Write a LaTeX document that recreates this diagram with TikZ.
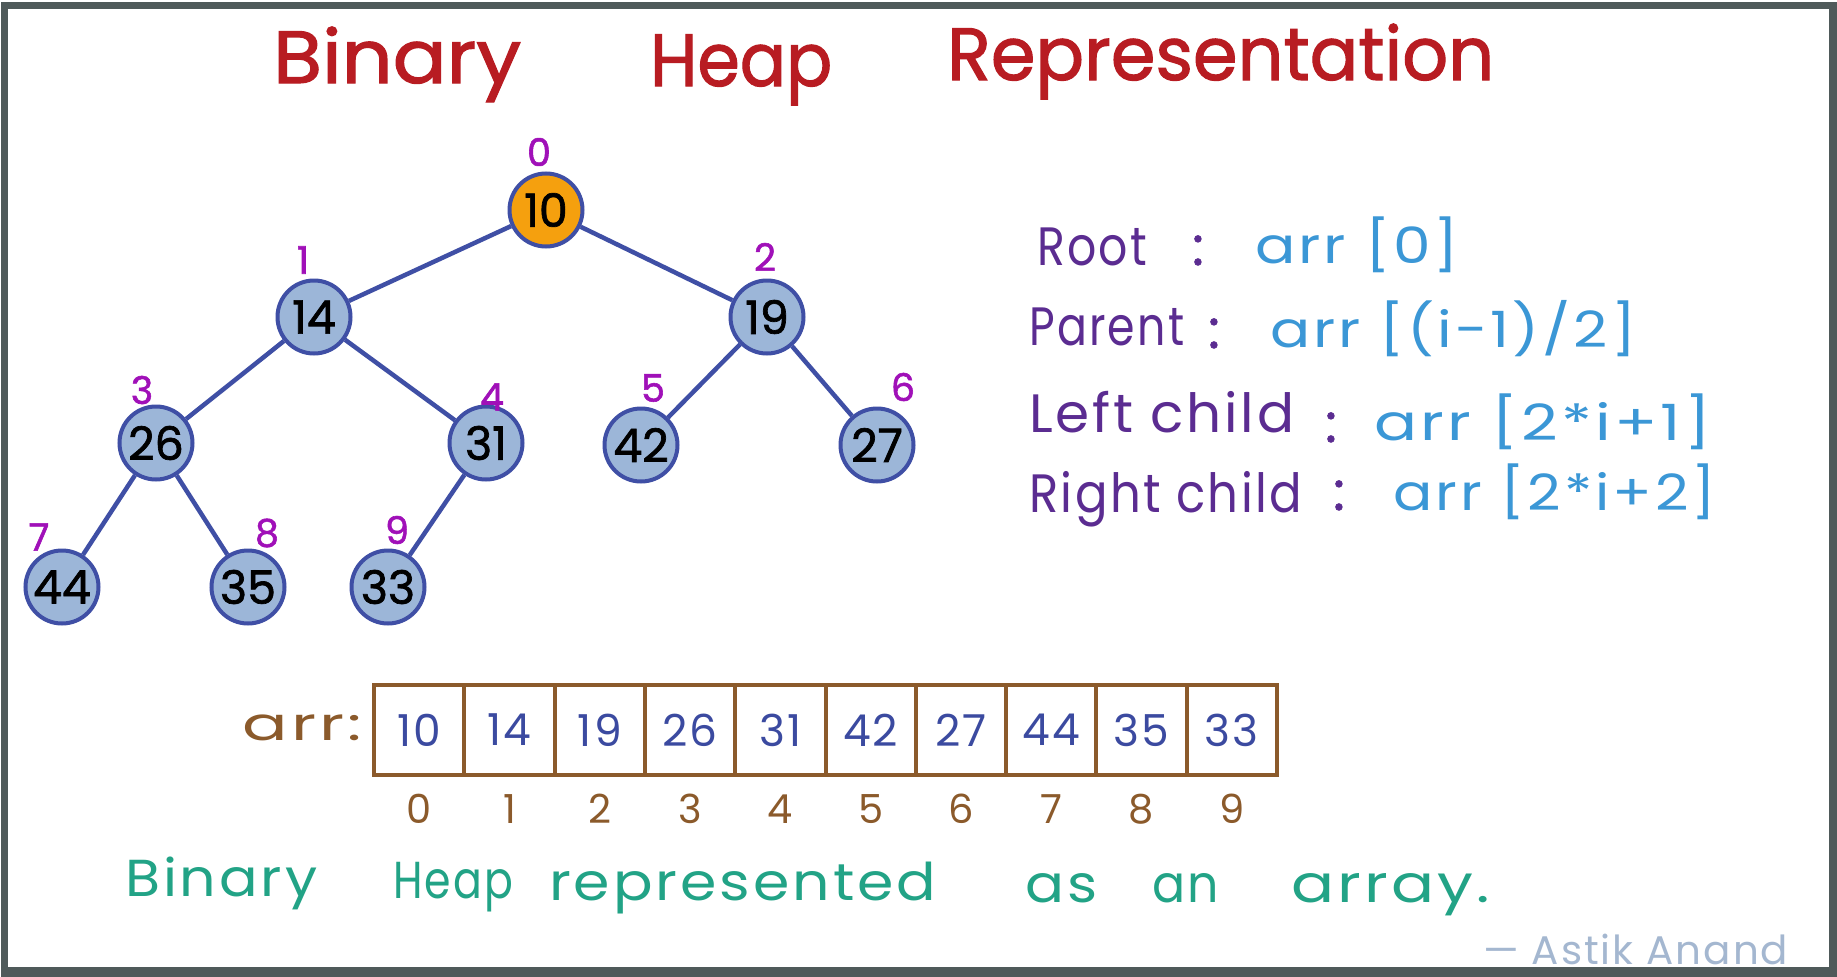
\documentclass[tikz,border=0pt]{standalone}
\usepackage{fontspec}
\usepackage{graphicx}
\setmainfont{Poppins}
\newfontfamily\handfont[LetterSpace=5]{Poppins}
\newfontfamily\handbold[FakeBold=1.5]{Poppins}
\newcommand\hbfs[1]{\fontsize{#1}{#1}\selectfont}
\newcommand\fitto[2]{\resizebox{#1pt}{\height}{#2}}
\definecolor{framegray}{HTML}{4F5A5A}
\definecolor{titlered}{HTML}{B81C22}
\definecolor{idxpurple}{HTML}{A010B8}
\definecolor{edgeblue}{HTML}{3F4FA5}
\definecolor{nodefill}{HTML}{9CB6D8}
\definecolor{rootorange}{HTML}{F5A00E}
\definecolor{labelpurple}{HTML}{5B2C91}
\definecolor{formblue}{HTML}{3B97D6}
\definecolor{arrbrown}{HTML}{8B5A2B}
\definecolor{cellblue}{HTML}{3B4AA0}
\definecolor{capgreen}{HTML}{22A386}
\definecolor{authorgray}{HTML}{A4B7D0}
\tikzset{
  heapnode/.style={circle, draw=edgeblue, line width=4pt, fill=nodefill,
    minimum size=73pt, inner sep=0pt, text=black, font=\handbold\hbfs{46}},
  treeedge/.style={draw=edgeblue, line width=4.5pt},
  idxlabel/.style={inner sep=0pt, text=idxpurple, font=\handbold\hbfs{38}},
  txt/.style={inner sep=0pt, anchor=base west},
  coltxt/.style={inner sep=0pt, anchor=base},
  titletxt/.style={txt, text=titlered, font=\handbold\hbfs{74}},
  lbltxt/.style={txt, text=labelpurple, font=\handfont\hbfs{54}},
  lblcolon/.style={coltxt, text=labelpurple, font=\handbold\hbfs{54}},
  formtxt/.style={txt, text=formblue, font=\handfont\hbfs{50}},
  cellbox/.style={rectangle, draw=arrbrown, line width=4pt, minimum width=90.3pt,
    minimum height=90pt, inner sep=0pt, text=cellblue, font=\handfont\hbfs{44}},
  arridx/.style={inner sep=0pt, text=arrbrown, font=\handfont\hbfs{40}},
  captxt/.style={txt, text=capgreen, font=\handfont\hbfs{52}},
}
\begin{document}
\begin{tikzpicture}[x=1pt,y=-1pt]
\useasboundingbox (0,0) rectangle (1837,977);
\fill[white] (0,0) rectangle (1837,977);
\fill[framegray] (1,2) rectangle (1837,977);
\fill[white] (8,9) rectangle (1829,967);

% title
\node[titletxt] (title1) at (273,83) {\fitto{248}{Binary}};
\node[titletxt] (title2) at (650,86) {\fitto{182}{Heap}};
\node[titletxt] (title3) at (947,80) {\fitto{547}{Representation}};

% tree nodes
\node[heapnode, fill=rootorange] (n0) at (546,210) {10};
\node[heapnode] (n1) at (314,317) {14};
\node[heapnode] (n2) at (767,317) {19};
\node[heapnode] (n3) at (156,443) {26};
\node[heapnode] (n4) at (486,443) {31};
\node[heapnode] (n5) at (641,445) {42};
\node[heapnode] (n6) at (877,445) {27};
\node[heapnode] (n7) at (62,587) {44};
\node[heapnode] (n8) at (248,587) {35};
\node[heapnode] (n9) at (388,587) {33};

\draw[treeedge] (n0) -- (n1);
\draw[treeedge] (n0) -- (n2);
\draw[treeedge] (n1) -- (n3);
\draw[treeedge] (n1) -- (n4);
\draw[treeedge] (n2) -- (n5);
\draw[treeedge] (n2) -- (n6);
\draw[treeedge] (n3) -- (n7);
\draw[treeedge] (n3) -- (n8);
\draw[treeedge] (n4) -- (n9);

% index labels
\node[idxlabel] (i0) at (539,152) {0};
\node[idxlabel] (i1) at (303,260) {1};
\node[idxlabel] (i2) at (765,257) {2};
\node[idxlabel] (i3) at (142,390) {3};
\node[idxlabel] (i4) at (492,397) {4};
\node[idxlabel] (i5) at (653,388) {5};
\node[idxlabel] (i6) at (903,387) {6};
\node[idxlabel] (i7) at (39,537) {7};
\node[idxlabel] (i8) at (267,533) {8};
\node[idxlabel] (i9) at (397,530) {9};

% formulas
\node[lbltxt] (root) at (1037,265) {\fitto{110}{Root}};
\node[lblcolon] (rootc) at (1198,265) {:};
\node[formtxt] (rootf) at (1255,263) {\fitto{204}{arr [0]}};

\node[lbltxt] (par) at (1029,345) {\fitto{155}{Parent}};
\node[lblcolon] (parc) at (1214,348) {:};
\node[formtxt] (parf) at (1270,347) {\fitto{366}{arr [(i-1)/2]}};

\node[lbltxt] (left) at (1029,432) {\fitto{265}{Left child}};
\node[lblcolon] (leftc) at (1331,442) {:};
\node[formtxt] (leftf) at (1374,440) {\fitto{337}{arr [2*i+1]}};

\node[lbltxt] (right) at (1029,512) {\fitto{273}{Right child}};
\node[lblcolon] (rightc) at (1339,510) {:};
\node[formtxt] (rightf) at (1393,510) {\fitto{323}{arr [2*i+2]}};

% array
\node[txt, text=arrbrown, font=\handfont\hbfs{46}] (arrlbl) at (242,740) {\fitto{120}{arr:}};
\foreach \v [count=\i from 0] in {10,14,19,26,31,42,27,44,35,33} {
  \node[cellbox] (c\i) at ({419.15+90.3*\i},730) {\v};
  \node[arridx] (k\i) at ({419.15+90.3*\i},809) {\i};
}

% caption
\node[captxt] (cap1) at (125,896) {\fitto{192}{Binary}};
\node[captxt] (cap2) at (393,898) {\fitto{120}{Heap}};
\node[captxt] (cap3) at (549,900) {\fitto{387}{represented}};
\node[captxt] (cap4) at (1025,902) {\fitto{72}{as}};
\node[captxt] (cap5) at (1152,902) {\fitto{67}{an}};
\node[captxt] (cap6) at (1291,902) {\fitto{199}{array.}};

% author
\node[txt, text=authorgray, font=\handfont\hbfs{40}] (author) at (1483,964) {\fitto{305}{— Astik Anand}};
\end{tikzpicture}
\end{document}
